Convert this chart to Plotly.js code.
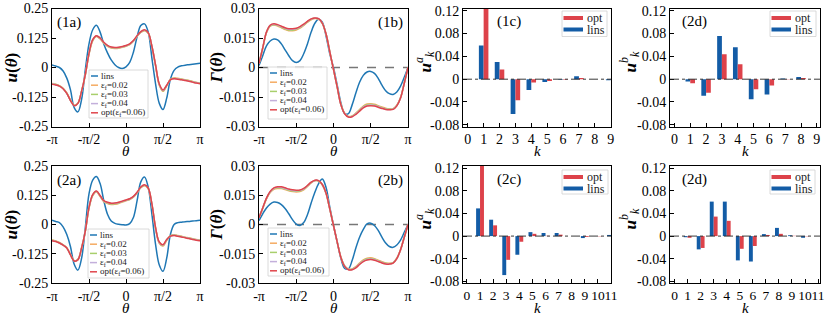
<!DOCTYPE html>
<html><head><meta charset="utf-8">
<script src="https://cdn.plot.ly/plotly-3.0.1.min.js"></script>
<style>html,body{margin:0;padding:0;background:#fff}</style>
</head><body><div id="chart" style="width:831px;height:315px"></div>
<script>
// ---------- DATA ----------
// theta grid in units of pi
const thetaPi = [-1,-0.95,-0.9,-0.85,-0.8,-0.75,-0.7,-0.65,-0.6,-0.55,-0.5,-0.45,-0.4,-0.35,-0.3,-0.25,-0.2,-0.15,-0.1,-0.05,0,0.05,0.1,0.15,0.2,0.25,0.3,0.35,0.4,0.45,0.5,0.55,0.6,0.65,0.7,0.75,0.8,0.85,0.9,0.95,1];

// (1a) u(theta)
const u1a_lins = [0.011,0.006,0.0,-0.015,-0.045,-0.095,-0.17,-0.188,-0.135,-0.01,0.1,0.16,0.179,0.15,0.1,0.062,0.032,0.012,0.0,-0.004,0.003,0.022,0.065,0.13,0.178,0.185,0.15,0.04,-0.07,-0.152,-0.178,-0.13,-0.05,-0.012,0.002,0.007,0.01,0.012,0.014,0.016,0.018];
const u1a_e02 = [-0.068,-0.071,-0.077,-0.088,-0.108,-0.138,-0.16,-0.151,-0.1,-0.032,0.056,0.113,0.131,0.121,0.103,0.09,0.083,0.081,0.082,0.086,0.09,0.097,0.111,0.132,0.149,0.156,0.145,0.088,0.006,-0.075,-0.101,-0.078,-0.05,-0.044,-0.046,-0.049,-0.052,-0.055,-0.059,-0.063,-0.066];
const u1a_e03 = [-0.069,-0.072,-0.078,-0.089,-0.109,-0.139,-0.161,-0.151,-0.1,-0.031,0.058,0.115,0.133,0.123,0.105,0.092,0.085,0.083,0.084,0.087,0.091,0.098,0.112,0.133,0.15,0.158,0.146,0.089,0.008,-0.073,-0.099,-0.077,-0.051,-0.046,-0.048,-0.05,-0.053,-0.056,-0.06,-0.064,-0.067];
const u1a_e04 = [-0.07,-0.073,-0.079,-0.09,-0.11,-0.14,-0.162,-0.152,-0.1,-0.03,0.059,0.117,0.134,0.124,0.106,0.093,0.086,0.084,0.085,0.088,0.092,0.099,0.113,0.134,0.151,0.159,0.147,0.09,0.009,-0.071,-0.097,-0.076,-0.052,-0.047,-0.049,-0.051,-0.054,-0.057,-0.061,-0.065,-0.068];
const u1a_opt = [-0.071,-0.074,-0.079,-0.09,-0.11,-0.14,-0.162,-0.152,-0.1,-0.03,0.06,0.118,0.135,0.125,0.107,0.094,0.087,0.085,0.086,0.089,0.093,0.1,0.114,0.135,0.152,0.16,0.148,0.09,0.01,-0.07,-0.095,-0.075,-0.052,-0.048,-0.05,-0.052,-0.055,-0.058,-0.062,-0.066,-0.069];

// (1b) Gamma(theta)
const g1b_lins = [0.001,0.006,0.011,0.0135,0.0145,0.014,0.012,0.009,0.006,0.0035,0.0026,0.0035,0.007,0.012,0.018,0.0225,0.0245,0.023,0.016,0.007,0,-0.009,-0.018,-0.0235,-0.0235,-0.019,-0.013,-0.0075,-0.004,-0.0023,-0.002,-0.003,-0.0055,-0.009,-0.0118,-0.0133,-0.0137,-0.0125,-0.0095,-0.005,0];
const g1b_e02 = [0.002,0.0098,0.0177,0.021,0.0216,0.0211,0.0202,0.0193,0.0187,0.0187,0.0191,0.02,0.0214,0.023,0.0243,0.0249,0.0246,0.0224,0.017,0.008,-0.001,-0.01,-0.0188,-0.0232,-0.0249,-0.0246,-0.0232,-0.0214,-0.0196,-0.0186,-0.0184,-0.0187,-0.0194,-0.0201,-0.0207,-0.021,-0.0209,-0.0192,-0.0153,-0.0079,0];
const g1b_e03 = [0.002,0.0099,0.0178,0.0212,0.0218,0.0214,0.0205,0.0196,0.019,0.019,0.0194,0.0203,0.0216,0.0232,0.0245,0.025,0.0247,0.0224,0.017,0.008,-0.001,-0.01,-0.0189,-0.0233,-0.025,-0.0247,-0.0234,-0.0217,-0.0199,-0.0189,-0.0187,-0.019,-0.0197,-0.0204,-0.021,-0.0212,-0.0211,-0.0193,-0.0154,-0.0079,0];
const g1b_e04 = [0.002,0.01,0.0179,0.0214,0.022,0.0216,0.0208,0.0199,0.0194,0.0194,0.0197,0.0206,0.0218,0.0234,0.0246,0.0251,0.0248,0.0225,0.017,0.008,-0.001,-0.01,-0.019,-0.0234,-0.0251,-0.0249,-0.0236,-0.022,-0.0202,-0.0193,-0.0191,-0.0193,-0.02,-0.0206,-0.0212,-0.0214,-0.0212,-0.0194,-0.0155,-0.008,0];
const g1b_opt = [0.002,0.01,0.018,0.0215,0.0222,0.0218,0.021,0.0202,0.0197,0.0197,0.02,0.0208,0.022,0.0235,0.0247,0.0252,0.0248,0.0225,0.017,0.008,-0.001,-0.01,-0.019,-0.0235,-0.0252,-0.025,-0.0238,-0.0222,-0.0205,-0.0196,-0.0194,-0.0196,-0.0202,-0.0208,-0.0213,-0.0215,-0.0213,-0.0195,-0.0155,-0.008,0];

// (2a) u(theta)
const u2a_lins = [0.018,0.013,0.008,-0.01,-0.043,-0.095,-0.17,-0.195,-0.144,-0.014,0.131,0.19,0.205,0.175,0.102,0.044,0.015,0.005,0.001,-0.001,-0.002,0.004,0.03,0.102,0.182,0.203,0.16,0.044,-0.086,-0.173,-0.2,-0.144,-0.043,0.0,0.008,0.01,0.012,0.013,0.015,0.016,0.018];
const u2a_e02 = [-0.066,-0.07,-0.077,-0.087,-0.099,-0.129,-0.155,-0.15,-0.1,-0.03,0.069,0.123,0.139,0.12,0.098,0.09,0.086,0.087,0.09,0.096,0.101,0.107,0.117,0.135,0.157,0.166,0.153,0.085,-0.018,-0.08,-0.092,-0.068,-0.048,-0.044,-0.047,-0.05,-0.054,-0.057,-0.061,-0.064,-0.066];
const u2a_e03 = [-0.067,-0.071,-0.078,-0.087,-0.1,-0.129,-0.155,-0.15,-0.1,-0.029,0.071,0.125,0.141,0.122,0.1,0.092,0.088,0.089,0.092,0.098,0.103,0.108,0.118,0.136,0.158,0.168,0.154,0.086,-0.016,-0.078,-0.09,-0.066,-0.049,-0.045,-0.048,-0.051,-0.055,-0.058,-0.062,-0.065,-0.067];
const u2a_e04 = [-0.068,-0.072,-0.079,-0.088,-0.1,-0.13,-0.156,-0.151,-0.1,-0.028,0.072,0.127,0.142,0.123,0.101,0.094,0.09,0.091,0.094,0.099,0.104,0.109,0.119,0.137,0.159,0.169,0.155,0.087,-0.015,-0.077,-0.088,-0.065,-0.05,-0.046,-0.049,-0.052,-0.056,-0.059,-0.063,-0.066,-0.068];
const u2a_opt = [-0.069,-0.073,-0.079,-0.088,-0.1,-0.13,-0.156,-0.151,-0.1,-0.028,0.073,0.128,0.143,0.124,0.102,0.095,0.091,0.092,0.095,0.1,0.105,0.11,0.12,0.138,0.16,0.17,0.156,0.088,-0.014,-0.075,-0.086,-0.064,-0.05,-0.047,-0.05,-0.053,-0.057,-0.06,-0.064,-0.067,-0.069];

// (2b) Gamma(theta)
const g2b_lins = [0.002,0.0055,0.0085,0.0105,0.0115,0.0113,0.0102,0.0082,0.0055,0.0025,0.0002,-0.0005,0.001,0.005,0.011,0.0165,0.021,0.0233,0.019,0.009,-0.0005,-0.009,-0.0175,-0.0225,-0.0228,-0.0185,-0.012,-0.0065,-0.0025,0.0003,0.0007,-0.0005,-0.003,-0.0065,-0.0095,-0.0113,-0.0117,-0.0105,-0.008,-0.004,0];
const g2b_e02 = [0.0035,0.0083,0.0131,0.0164,0.0181,0.0185,0.0184,0.0179,0.0173,0.0169,0.0167,0.0169,0.0178,0.0195,0.0213,0.0224,0.0223,0.0204,0.016,0.008,-0.0005,-0.009,-0.0168,-0.0212,-0.0228,-0.0228,-0.0216,-0.0198,-0.0182,-0.0173,-0.0171,-0.0175,-0.0183,-0.0191,-0.0197,-0.0199,-0.0195,-0.0173,-0.0129,-0.0065,0];
const g2b_e03 = [0.0035,0.0084,0.0133,0.0166,0.0184,0.0188,0.0187,0.0182,0.0176,0.0172,0.017,0.0172,0.0181,0.0197,0.0215,0.0225,0.0224,0.0204,0.016,0.008,-0.0005,-0.009,-0.0169,-0.0213,-0.023,-0.0229,-0.0218,-0.0201,-0.0185,-0.0176,-0.0174,-0.0178,-0.0186,-0.0193,-0.0199,-0.0201,-0.0196,-0.0174,-0.013,-0.0065,0];
const g2b_e04 = [0.0035,0.0085,0.0134,0.0168,0.0186,0.0191,0.019,0.0185,0.0179,0.0175,0.0173,0.0175,0.0183,0.0199,0.0216,0.0226,0.0225,0.0205,0.016,0.008,-0.0005,-0.009,-0.017,-0.0214,-0.0231,-0.0231,-0.022,-0.0203,-0.0188,-0.0179,-0.0177,-0.0181,-0.0188,-0.0195,-0.0201,-0.0202,-0.0197,-0.0175,-0.013,-0.0065,0];
const g2b_opt = [0.0035,0.0085,0.0135,0.017,0.0188,0.0193,0.0193,0.0188,0.0182,0.0178,0.0176,0.0177,0.0185,0.02,0.0217,0.0227,0.0225,0.0205,0.016,0.008,-0.0005,-0.009,-0.017,-0.0215,-0.0232,-0.0232,-0.0222,-0.0205,-0.019,-0.0182,-0.018,-0.0183,-0.019,-0.0197,-0.0202,-0.0203,-0.0198,-0.0175,-0.013,-0.0065,0];

// Fourier coefficients (bar panels)
const k9  = [1,2,3,4,5,6,7,8,9];
const k11 = [1,2,3,4,5,6,7,8,9,10,11];
const c1_lins = [0.059,0.030,-0.061,-0.019,-0.005,-0.001,0.005,0.0,-0.002];
const c1_opt  = [0.124,0.017,-0.037,-0.006,-0.003,-0.001,0.002,0.0,-0.001];
const d1_lins = [-0.004,-0.029,0.0757,0.056,-0.035,-0.027,0.001,0.004,0.0];
const d1_opt  = [-0.007,-0.024,0.0437,0.026,-0.0175,-0.011,0.0005,0.002,0.0];
const c2_lins = [0.049,0.029,-0.069,-0.033,0.007,0.0055,0.0055,0.0,-0.0035,0.0,0.002];
const c2_opt  = [0.124,0.019,-0.042,-0.010,0.004,0.0005,0.0025,0.0,-0.0015,-0.0005,0.0];
const d2_lins = [-0.002,-0.0235,0.061,0.061,-0.043,-0.045,0.0035,0.0145,0.0015,-0.003,0.0];
const d2_opt  = [-0.003,-0.021,0.0345,0.027,-0.0225,-0.0175,0.002,0.004,0.0005,-0.0005,0.0];

// tick labels
const thetaTickVals = [-1,-0.5,0,0.5,1];
const thetaTickText = ['-π','-π/2','0','π/2','π'];
const uTickVals = [-0.25,-0.125,0,0.125,0.25];
const uTickText = ['-0.25','-0.125','0','0.125','0.25'];
const gTickVals = [-0.03,-0.015,0,0.015,0.03];
const gTickText = ['-0.03','-0.015','0','0.015','0.03'];
const cTickVals = [-0.08,-0.04,0,0.04,0.08,0.12];
const cTickText = ['-0.08','-0.04','0','0.04','0.08','0.12'];
const kTick9 = [0,1,2,3,4,5,6,7,8,9];
const kTick11 = [0,1,2,3,4,5,6,7,8,9,10,11];

const lineNames = ['lins','ε<sub>f</sub>=0.02','ε<sub>f</sub>=0.03','ε<sub>f</sub>=0.04','opt(ε<sub>f</sub>=0.06)'];
const panelLabels = ['(1a)','(1b)','(1c)','(2d)','(2a)','(2b)','(2c)','(2d)'];
const yTitleU = '<b><i>u</i>(<i>θ</i>)</b>';
const yTitleG = '<b><i>Γ</i>(<i>θ</i>)</b>';
const yTitleA = '<b><i>u</i></b><sup><i>a</i></sup><sub><i>k</i></sub>';
const yTitleB = '<b><i>u</i></b><sup><i>b</i></sup><sub><i>k</i></sub>';
const xTitleTheta = '<i>θ</i>';
const xTitleK = '<i>k</i>';

// ---------- STYLE ----------
const FONT = 'Liberation Serif, Times New Roman, serif';
const lineColors = ['#1f77b4','#f5ab62','#a8cf6c','#c3afdb','#e0454b'];
const barRed = '#dd424a', barBlue = '#135ca6';
const W = 831, H = 315;
const PX = v => v / W, PY = v => 1 - v / H;
const colDom = [[52,200],[259,408],[463,611],[670,820]];
const rowDom = [[8.5,126.5],[166,283]];
const yTitleX = [11, 216, 425, 630];
const xTitleDy = [24.5, 24.5];

const traces = [];
const shapes = [];
const annotations = [];
const layout = {
  width: W, height: H, margin: {l:0,r:0,t:0,b:0},
  paper_bgcolor: '#fff', plot_bgcolor: '#fff', showlegend: false,
  font: {family: FONT, color: '#000'}
};

function axBase() {
  return {showline:true, mirror:true, linecolor:'#000', linewidth:1, ticks:'inside', ticklen:4,
    tickwidth:1, tickcolor:'#000', showgrid:false, zeroline:false, fixedrange:true, tickangle:0,
    tickfont:{family:FONT, size:14, color:'#000'}, automargin:false};
}

const panels = [
  {type:'u', ser:[u1a_lins,u1a_e02,u1a_e03,u1a_e04,u1a_opt]},
  {type:'g', ser:[g1b_lins,g1b_e02,g1b_e03,g1b_e04,g1b_opt]},
  {type:'c', k:k9, lins:c1_lins, opt:c1_opt, kt:kTick9, xr:[-0.3,9.02], yt:yTitleA},
  {type:'c', k:k9, lins:d1_lins, opt:d1_opt, kt:kTick9, xr:[-0.28,9.2], yt:yTitleB},
  {type:'u', ser:[u2a_lins,u2a_e02,u2a_e03,u2a_e04,u2a_opt]},
  {type:'g', ser:[g2b_lins,g2b_e02,g2b_e03,g2b_e04,g2b_opt]},
  {type:'c', k:k11, lins:c2_lins, opt:c2_opt, kt:kTick11, xr:[-0.3,11.0], yt:yTitleA},
  {type:'c', k:k11, lins:d2_lins, opt:d2_opt, kt:kTick11, xr:[-0.35,11.15], yt:yTitleB}
];

// legend box positions (px): [left, top, right, bottom]
const lineLegBox = {0:[89,70,148,118], 1:[268,67,327,119], 4:[88,229,149,278], 5:[268,228,329,276]};
const barLegBox = {2:[562,11,607,36.5], 3:[770,11,816,36.5], 6:[562,170,608,194], 7:[770,170,815,194]};
const labelPos = {0:[55,'left'],1:[405,'right'],2:[495,'left'],3:[680,'left'],4:[55,'left'],5:[405,'right'],6:[495,'left'],7:[680,'left']};

panels.forEach((p, i) => {
  const row = Math.floor(i/4), col = i % 4;
  const n = i === 0 ? '' : String(i+1);
  const xa = 'x'+n, ya = 'y'+n;
  const xd = colDom[col], yd = rowDom[row];
  const xaxis = axBase(), yaxis = axBase();
  xaxis.domain = [PX(xd[0]), PX(xd[1])];
  yaxis.domain = [PY(yd[1]), PY(yd[0])];
  xaxis.anchor = ya; yaxis.anchor = xa;
  let yTitle, xTitle, yTitleYc = (yd[0]+yd[1])/2;
  if (p.type === 'u' || p.type === 'g') {
    xaxis.range = [-1, 1];
    xaxis.tickvals = thetaTickVals; xaxis.ticktext = thetaTickText;
    xTitle = xTitleTheta;
    if (p.type === 'u') {
      yaxis.range = [-0.25, 0.25]; yaxis.tickvals = uTickVals; yaxis.ticktext = uTickText;
      yTitle = yTitleU;
    } else {
      yaxis.range = [-0.03, 0.03]; yaxis.tickvals = gTickVals; yaxis.ticktext = gTickText;
      yTitle = yTitleG;
      shapes.push({type:'line', xref:xa+' domain', yref:ya, x0:0, x1:1, y0:0, y1:0,
        line:{color:'#777', width:1.3, dash:'dash'}, layer:'below'});
    }
    p.ser.forEach((s, j) => {
      traces.push({type:'scatter', mode:'lines', x:thetaPi, y:s, xaxis:xa, yaxis:ya, name:lineNames[j],
        line:{color:lineColors[j], width:1.5, shape:'spline', smoothing:1}, hoverinfo:'skip'});
    });
    // manual legend
    const b = lineLegBox[i];
    shapes.push({type:'rect', xref:'paper', yref:'paper', x0:PX(b[0]), x1:PX(b[2]), y0:PY(b[3]), y1:PY(b[1]),
      fillcolor:'rgba(255,255,255,0.85)', line:{color:'#d0d0d0', width:0.8}});
    lineNames.forEach((nm, j) => {
      const yy = b[1] + 6 + j*9.2;
      shapes.push({type:'line', xref:'paper', yref:'paper', x0:PX(b[0]+2), x1:PX(b[0]+9), y0:PY(yy), y1:PY(yy),
        line:{color:lineColors[j], width:1.5}});
      annotations.push({xref:'paper', yref:'paper', x:PX(b[0]+10), y:PY(yy), text:nm, showarrow:false,
        xanchor:'left', yanchor:'middle', font:{family:FONT, size:9, color:'#222'}});
    });
  } else {
    xaxis.range = p.xr; xaxis.tickvals = p.kt; xaxis.ticktext = p.kt.map(String);
    if (p.kt.length > 10) xaxis.tickfont = {family:FONT, size:13.5, color:'#000'};
    xTitle = xTitleK;
    yaxis.range = [-0.083, 0.124]; yaxis.tickvals = cTickVals; yaxis.ticktext = cTickText;
    yTitle = p.yt; yTitleYc -= 5;
    shapes.push({type:'line', xref:xa+' domain', yref:ya, x0:0, x1:1, y0:0, y1:0,
      line:{color:'#222', width:0.9, dash:'dashdot'}, layer:'above'});
    traces.push({type:'bar', x:p.k, y:p.lins, xaxis:xa, yaxis:ya, name:'lins', width:0.3, offset:-0.3,
      marker:{color:barBlue, line:{width:0}}, hoverinfo:'skip'});
    traces.push({type:'bar', x:p.k, y:p.opt, xaxis:xa, yaxis:ya, name:'opt', width:0.3, offset:0,
      marker:{color:barRed, line:{width:0}}, hoverinfo:'skip'});
    const b = barLegBox[i];
    shapes.push({type:'rect', xref:'paper', yref:'paper', x0:PX(b[0]), x1:PX(b[2]), y0:PY(b[3]), y1:PY(b[1]),
      fillcolor:'rgba(255,255,255,0.85)', line:{color:'#d0d0d0', width:0.8}});
    [['opt',barRed],['lins',barBlue]].forEach((e, j) => {
      const yy = b[1] + 7 + j*11.5;
      shapes.push({type:'line', xref:'paper', yref:'paper', x0:PX(b[0]+1.5), x1:PX(b[0]+21), y0:PY(yy), y1:PY(yy),
        line:{color:e[1], width:4}});
      annotations.push({xref:'paper', yref:'paper', x:PX(b[0]+22.5), y:PY(yy), text:e[0], showarrow:false,
        xanchor:'left', yanchor:'middle', font:{family:FONT, size:12, color:'#222'}});
    });
  }
  layout['xaxis'+n] = xaxis;
  layout['yaxis'+n] = yaxis;
  // axis titles
  annotations.push({xref:'paper', yref:'paper', x:PX((xd[0]+xd[1])/2), y:PY(yd[1] + xTitleDy[row]), text:xTitle,
    showarrow:false, xanchor:'center', yanchor:'middle', font:{family:FONT, size:15, color:'#000'}});
  annotations.push({xref:'paper', yref:'paper', x:PX(yTitleX[col]), y:PY(yTitleYc), text:yTitle, textangle:-90,
    showarrow:false, xanchor:'center', yanchor:'middle', font:{family:FONT, size:17, color:'#000'}});
  // panel label
  const lp = labelPos[i];
  annotations.push({xref:'paper', yref:'paper', x:PX(lp[0]), y:PY(yd[0] + (col>=2 ? 13 : 14)), text:panelLabels[i],
    showarrow:false, xanchor:lp[1], yanchor:'middle', font:{family:FONT, size:15, color:'#000'}});
});

layout.barmode = 'overlay';
layout.shapes = shapes;
layout.annotations = annotations;
Plotly.newPlot('chart', traces, layout, {staticPlot:true, displayModeBar:false});
</script>
</body></html>
